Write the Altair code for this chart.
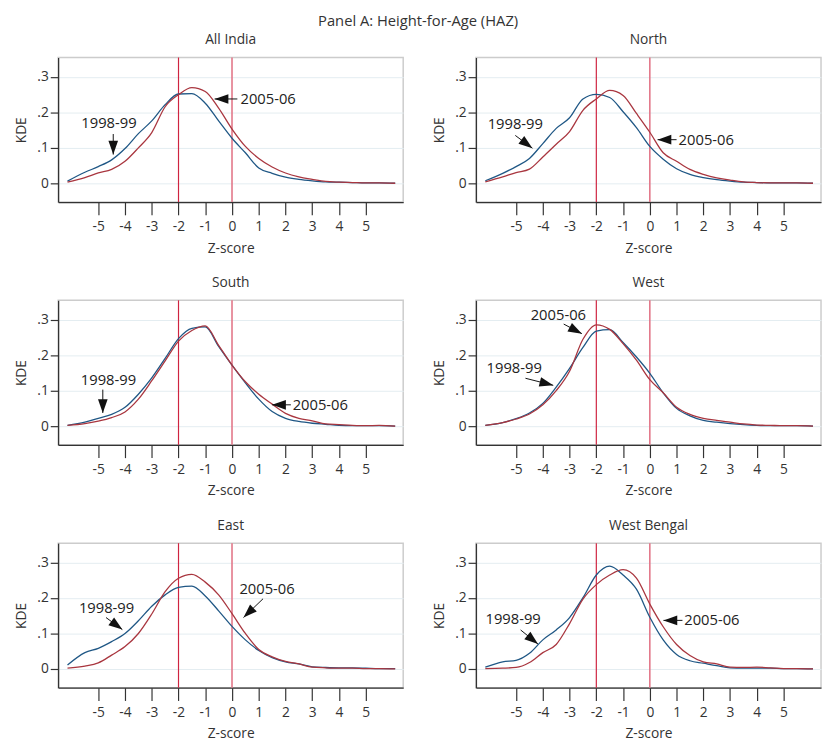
import math
import altair as alt
import pandas as pd

# ---------------- data ----------------
Z = [-6.15, -5.5, -5.0, -4.5, -4.0, -3.5, -3.0, -2.5, -2.0, -1.5, -1.0, -0.5,
     0.0, 0.5, 1.0, 1.5, 2.0, 2.5, 3.0, 3.5, 4.0, 4.5, 5.0, 5.5, 6.1]

SURVEYS = ["1998-99", "2005-06"]
SERIES_COLORS = ["#1f5785", "#a9363f"]

ALL_INDIA_1998 = [0.006, 0.031, 0.047, 0.066, 0.098, 0.140, 0.176, 0.222, 0.252, 0.253, 0.226, 0.176,
                  0.127, 0.086, 0.043, 0.028, 0.017, 0.011, 0.007, 0.004, 0.003, 0.002, 0.001, 0.001, 0.0]
ALL_INDIA_2005 = [0.003, 0.016, 0.029, 0.039, 0.062, 0.100, 0.143, 0.216, 0.250, 0.270, 0.259, 0.212,
                  0.153, 0.104, 0.070, 0.046, 0.029, 0.018, 0.011, 0.005, 0.003, 0.002, 0.001, 0.001, 0.0]
NORTH_1998 = [0.007, 0.028, 0.047, 0.070, 0.112, 0.155, 0.185, 0.238, 0.251, 0.242, 0.202, 0.157,
              0.104, 0.068, 0.041, 0.025, 0.016, 0.010, 0.006, 0.003, 0.002, 0.001, 0.001, 0.001, 0.0]
NORTH_2005 = [0.004, 0.018, 0.030, 0.040, 0.074, 0.110, 0.146, 0.206, 0.238, 0.262, 0.248, 0.197,
              0.144, 0.086, 0.062, 0.039, 0.025, 0.015, 0.009, 0.004, 0.002, 0.001, 0.001, 0.001, 0.0]
SOUTH_1998 = [0.002, 0.011, 0.022, 0.033, 0.053, 0.090, 0.136, 0.191, 0.247, 0.276, 0.280, 0.225,
              0.172, 0.122, 0.076, 0.041, 0.022, 0.013, 0.008, 0.005, 0.002, 0.001, 0.001, 0.001, 0.0]
SOUTH_2005 = [0.002, 0.007, 0.014, 0.024, 0.040, 0.076, 0.128, 0.184, 0.240, 0.270, 0.283, 0.228,
              0.172, 0.125, 0.090, 0.062, 0.036, 0.022, 0.015, 0.006, 0.004, 0.002, 0.001, 0.002, 0.0]
WEST_1998 = [0.002, 0.010, 0.021, 0.037, 0.064, 0.110, 0.163, 0.222, 0.268, 0.272, 0.236, 0.195,
             0.149, 0.094, 0.050, 0.029, 0.016, 0.011, 0.007, 0.004, 0.002, 0.001, 0.001, 0.001, 0.0]
WEST_2005 = [0.002, 0.010, 0.020, 0.034, 0.060, 0.100, 0.155, 0.245, 0.286, 0.273, 0.233, 0.186,
             0.131, 0.094, 0.053, 0.033, 0.022, 0.016, 0.011, 0.006, 0.003, 0.002, 0.001, 0.001, 0.0]
EAST_1998 = [0.011, 0.046, 0.058, 0.077, 0.100, 0.136, 0.177, 0.209, 0.230, 0.234, 0.206, 0.164,
             0.120, 0.082, 0.052, 0.032, 0.020, 0.014, 0.006, 0.004, 0.003, 0.003, 0.002, 0.001, 0.001]
EAST_2005 = [0.002, 0.008, 0.017, 0.039, 0.063, 0.100, 0.155, 0.218, 0.256, 0.267, 0.245, 0.209,
             0.156, 0.100, 0.055, 0.034, 0.021, 0.014, 0.005, 0.003, 0.002, 0.002, 0.001, 0.001, 0.0]
WEST_BENGAL_1998 = [0.005, 0.020, 0.024, 0.044, 0.082, 0.110, 0.145, 0.201, 0.265, 0.290, 0.265, 0.225,
                    0.146, 0.082, 0.041, 0.023, 0.016, 0.009, 0.003, 0.002, 0.002, 0.002, 0.001, 0.001, 0.0]
WEST_BENGAL_2005 = [0.001, 0.002, 0.004, 0.018, 0.046, 0.069, 0.128, 0.197, 0.238, 0.265, 0.280, 0.256,
                    0.183, 0.119, 0.069, 0.038, 0.020, 0.014, 0.005, 0.004, 0.005, 0.003, 0.001, 0.001, 0.0]

PANELS = ["All India", "North", "South", "West", "East", "West Bengal"]
CURVES = {
    "All India": (ALL_INDIA_1998, ALL_INDIA_2005),
    "North": (NORTH_1998, NORTH_2005),
    "South": (SOUTH_1998, SOUTH_2005),
    "West": (WEST_1998, WEST_2005),
    "East": (EAST_1998, EAST_2005),
    "West Bengal": (WEST_BENGAL_1998, WEST_BENGAL_2005),
}

VLINE_Z = [-2, 0]
VLINE_COLORS = ["#cf2440", "#e27688"]
VLINE_WIDTHS = [1.2, 1.6]

# annotations: label text centre and arrow tail -> tip (data units)
ANN_PANEL = ["All India", "All India", "North", "North", "South", "South",
             "West", "West", "East", "East", "West Bengal", "West Bengal"]
ANN_LABEL = ["1998-99", "2005-06", "1998-99", "2005-06", "1998-99", "2005-06",
             "2005-06", "1998-99", "1998-99", "2005-06", "1998-99", "2005-06"]
ANN_TX = [-4.6, 1.35, -5.03, 2.11, -4.62, 3.3, -3.42, -5.07, -4.69, 1.31, -5.11, 2.32]
ANN_TY = [0.171, 0.238, 0.168, 0.123, 0.129, 0.060, 0.312, 0.165, 0.173, 0.225, 0.140, 0.137]
ANN_X0 = [-4.44, 0.20, -5.03, 1.00, -4.83, 2.20, -3.22, -4.65, -4.71, 1.16, -4.83, 1.22]
ANN_Y0 = [0.139, 0.238, 0.135, 0.123, 0.103, 0.060, 0.288, 0.135, 0.145, 0.198, 0.110, 0.137]
ANN_X1 = [-4.44, -0.65, -4.39, 0.29, -4.83, 1.50, -2.54, -3.61, -4.10, 0.43, -4.18, 0.51]
ANN_Y1 = [0.081, 0.238, 0.099, 0.123, 0.037, 0.060, 0.261, 0.115, 0.111, 0.145, 0.070, 0.137]

# ---------------- styling ----------------
W, H = 351, 147
XDOM = [-6.5, 6.4]
YDOM = [-0.053, 0.355]
FONT = "Open Sans"
INK = "#333333"
ARROW_PATH = "M0,0L0.7,2L-0.7,2Z"  # tip at origin, pointing up

sx = W / (XDOM[1] - XDOM[0])
sy = H / (YDOM[1] - YDOM[0])

ann = pd.DataFrame({
    "panel": ANN_PANEL, "label": ANN_LABEL, "tx": ANN_TX, "ty": ANN_TY,
    "x0": ANN_X0, "y0": ANN_Y0, "x1": ANN_X1, "y1": ANN_Y1,
})
ann["ang"] = [
    (math.degrees(math.atan2((x1 - x0) * sx, (y1 - y0) * sy)) + 360) % 360
    for x0, y0, x1, y1 in zip(ANN_X0, ANN_Y0, ANN_X1, ANN_Y1)
]


def xenc(field):
    return alt.X(f"{field}:Q", scale=alt.Scale(domain=XDOM, nice=False, zero=False),
                 axis=alt.Axis(values=list(range(-5, 6)), title="Z-score", grid=False,
                               labelExpr="'' + datum.value"))


def yenc(field):
    return alt.Y(f"{field}:Q", scale=alt.Scale(domain=YDOM, nice=False, zero=False),
                 axis=alt.Axis(values=[0, 0.1, 0.2, 0.3], title="KDE", grid=True,
                               labelExpr="datum.value == 0 ? '0' : '.' + format(datum.value * 10, 'd')"))


def panel(name):
    blue, red = CURVES[name]
    df = pd.DataFrame({
        "z": Z + Z,
        "kde": blue + red,
        "survey": [SURVEYS[0]] * len(Z) + [SURVEYS[1]] * len(Z),
    })
    layers = []
    for zv, col, w in zip(VLINE_Z, VLINE_COLORS, VLINE_WIDTHS):
        layers.append(
            alt.Chart(pd.DataFrame({"z": [zv]})).mark_rule(color=col, strokeWidth=w)
            .encode(x=xenc("z"))
        )
    layers.append(
        alt.Chart(df).mark_line(strokeWidth=1.3, interpolate="monotone").encode(
            x=xenc("z"), y=yenc("kde"),
            color=alt.Color("survey:N", scale=alt.Scale(domain=SURVEYS, range=SERIES_COLORS), legend=None),
        )
    )
    a = ann[ann["panel"] == name]
    layers.append(
        alt.Chart(a).mark_rule(color="#111111", strokeWidth=1).encode(
            x=xenc("x0"), y=yenc("y0"), x2="x1:Q", y2="y1:Q")
    )
    layers.append(
        alt.Chart(a).mark_point(shape=ARROW_PATH, size=196, filled=True, color="#111111",
                                opacity=1, strokeWidth=0).encode(
            x=xenc("x1"), y=yenc("y1"), angle=alt.Angle("ang:Q", scale=None))
    )
    layers.append(
        alt.Chart(a).mark_text(font=FONT, fontSize=15, color="#222222", align="center",
                               baseline="middle").encode(
            x=xenc("tx"), y=yenc("ty"), text="label:N")
    )
    return alt.layer(*layers).properties(width=W, height=H, title=name)


rows = [alt.hconcat(panel(PANELS[i]), panel(PANELS[i + 1]), spacing=28) for i in (0, 2, 4)]

chart = (
    alt.vconcat(*rows, spacing=19)
    .properties(
        title=alt.TitleParams("Panel A: Height-for-Age (HAZ)", anchor="middle", fontSize=15,
                              font=FONT, fontWeight="normal", color=INK, offset=3),
        padding={"left": 6, "top": 0, "right": 0, "bottom": 0},
    )
    .configure_view(stroke="#cccccc", strokeWidth=1.5)
    .configure_axis(labelFont=FONT, titleFont=FONT, labelFontSize=14, titleFontSize=14,
                    labelColor=INK, titleColor=INK, titleFontWeight="normal",
                    domainColor="#333333", tickColor="#333333", domainWidth=1.3, tickWidth=1.2,
                    gridColor="#e3edf1", gridWidth=1)
    .configure_axisX(tickSize=13, labelPadding=5, titlePadding=8)
    .configure_axisY(tickSize=8, labelPadding=2, titlePadding=8)
    .configure_title(font=FONT, fontSize=14, fontWeight="normal", color=INK, offset=10)
)

chart.save("out.html", embed_options={"renderer": "svg", "actions": False})
